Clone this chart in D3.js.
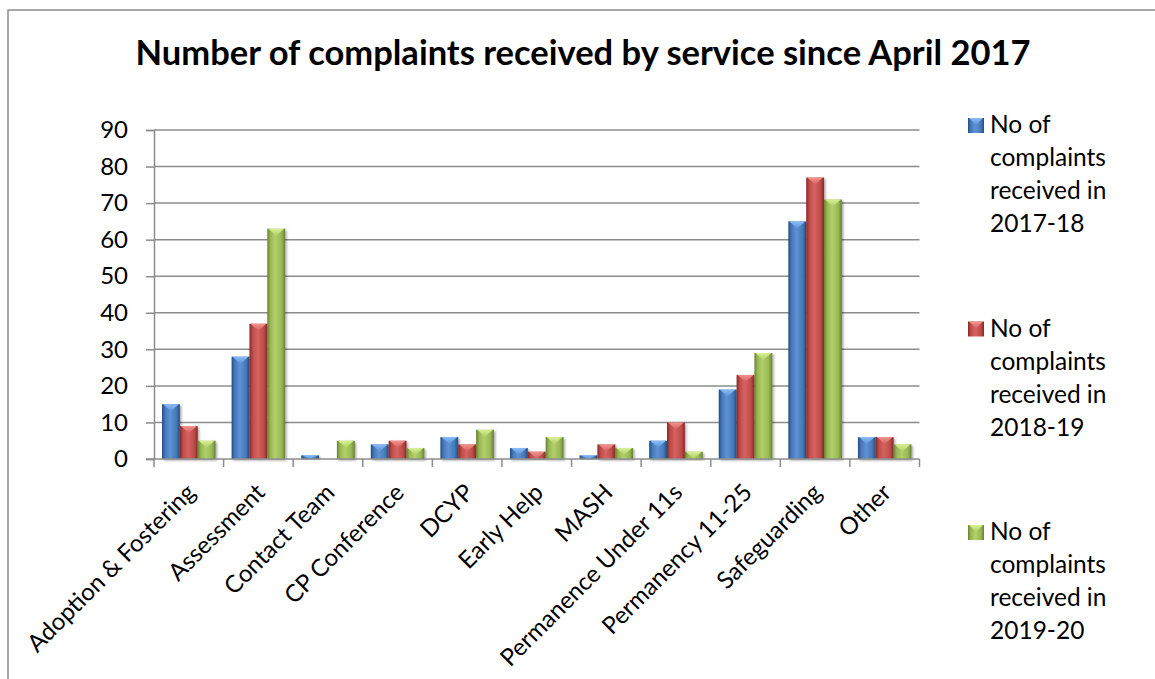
<!DOCTYPE html>
<html>
<head>
<meta charset="utf-8">
<script src="https://cdn.jsdelivr.net/npm/d3@7"></script>
<style>
  html, body { margin: 0; padding: 0; background: #fff; }
  svg { display: block; font-family: Lato, "Open Sans", sans-serif; }
</style>
</head>
<body>
<div id="chart"></div>
<script>
  const categories = ['Adoption & Fostering', 'Assessment', 'Contact Team', 'CP Conference', 'DCYP',
    'Early Help', 'MASH', 'Permanence Under 11s', 'Permanency 11-25', 'Safeguarding', 'Other'];
  const seriesNames = ['No of complaints received in 2017-18', 'No of complaints received in 2018-19',
    'No of complaints received in 2019-20'];
  const values1718 = [15, 28, 1, 4, 6, 3, 1, 5, 19, 65, 6];
  const values1819 = [9, 37, 0, 5, 4, 2, 4, 10, 23, 77, 6];
  const values1920 = [5, 63, 5, 3, 8, 6, 3, 2, 29, 71, 4];
  const yTicks = [0, 10, 20, 30, 40, 50, 60, 70, 80, 90];
  const legendLines = [
    ['No of', 'complaints', 'received in', '2017-18'],
    ['No of', 'complaints', 'received in', '2018-19'],
    ['No of', 'complaints', 'received in', '2019-20'],
  ];

  const W = 1155, H = 679;
  const plot = { left: 154, right: 919.5, top: 130, bottom: 459 };

  // base, dark edge, light centre, bevel top
  const palette = [
    { dark: '#234c82', mid: '#4679b8', light: '#5e92d5', top: '#8fc2ff' },
    { dark: '#872826', mid: '#bd4d4a', light: '#d6625f', top: '#f79a95' },
    { dark: '#67822f', mid: '#98b856', light: '#b1d068', top: '#dcf59a' },
  ];

  const svg = d3.select('#chart').append('svg')
    .attr('width', W).attr('height', H);

  const defs = svg.append('defs');
  palette.forEach((p, i) => {
    const g = defs.append('linearGradient').attr('id', 'bar' + i)
      .attr('x1', 0).attr('x2', 1).attr('y1', 0).attr('y2', 0);
    g.append('stop').attr('offset', '0%').attr('stop-color', p.dark);
    g.append('stop').attr('offset', '18%').attr('stop-color', p.mid);
    g.append('stop').attr('offset', '45%').attr('stop-color', p.light);
    g.append('stop').attr('offset', '80%').attr('stop-color', p.mid);
    g.append('stop').attr('offset', '100%').attr('stop-color', p.dark);
    const t = defs.append('linearGradient').attr('id', 'top' + i)
      .attr('x1', 0).attr('x2', 0).attr('y1', 0).attr('y2', 1);
    t.append('stop').attr('offset', '0%').attr('stop-color', p.top);
    t.append('stop').attr('offset', '100%').attr('stop-color', p.light);
  });
  const shadow = defs.append('filter').attr('id', 'shadow')
    .attr('x', '-30%').attr('y', '-10%').attr('width', '160%').attr('height', '130%');
  shadow.append('feDropShadow').attr('dx', 1.5).attr('dy', 1.5).attr('stdDeviation', 1.2)
    .attr('flood-color', '#000').attr('flood-opacity', 0.35);

  // Outer chart border
  svg.append('rect')
    .attr('x', 8).attr('y', 10).attr('width', 1200).attr('height', 720)
    .attr('fill', 'none').attr('stroke', '#8c8c8c').attr('stroke-width', 1.5);

  // Title
  svg.append('text')
    .attr('x', 583).attr('y', 65)
    .attr('text-anchor', 'middle')
    .style('font-size', '34.5px').style('font-weight', 'bold')
    .attr('fill', '#000')
    .text('Number of complaints received by service since April 2017');

  const x0 = d3.scaleBand().domain(categories).range([plot.left, plot.right]).paddingInner(0).paddingOuter(0);
  const y = d3.scaleLinear().domain([0, 90]).range([plot.bottom, plot.top]);
  const x1 = d3.scaleBand().domain([0, 1, 2]).range([0, x0.bandwidth()]).paddingOuter(0.45).paddingInner(0);

  // Gridlines
  svg.append('g').selectAll('line')
    .data(yTicks.filter(d => d > 0))
    .enter().append('line')
    .attr('x1', plot.left).attr('x2', plot.right)
    .attr('y1', d => y(d)).attr('y2', d => y(d))
    .attr('stroke', '#8c8c8c').attr('stroke-width', 1.5);

  // Y axis
  const yAxis = svg.append('g')
    .attr('transform', `translate(${plot.left},0)`)
    .call(d3.axisLeft(y).tickValues(yTicks).tickSize(8).tickPadding(18));
  yAxis.select('.domain').attr('stroke', '#8c8c8c').attr('stroke-width', 1.5);
  yAxis.selectAll('.tick line').attr('stroke', '#8c8c8c').attr('stroke-width', 1.5);
  yAxis.selectAll('.tick text')
    .style('font-size', '24px').style('font-family', 'Lato, sans-serif').attr('fill', '#000');

  const allSeries = [values1718, values1819, values1920];

  // Bars
  const barsG = svg.append('g');
  categories.forEach((cat, ci) => {
    allSeries.forEach((vals, si) => {
      const v = vals[ci];
      if (v <= 0) return;
      const bx = x0(cat) + x1(si);
      const bw = x1.bandwidth();
      const by = y(v);
      const bh = y(0) - by;
      const g = barsG.append('g').attr('filter', 'url(#shadow)');
      g.append('rect')
        .attr('x', bx).attr('y', by).attr('width', bw).attr('height', bh)
        .attr('fill', `url(#bar${si})`);
      const th = Math.min(7, bh);
      g.append('path')
        .attr('d', `M${bx + 1},${by} L${bx + bw - 1},${by} L${bx + bw / 2},${by + th} Z`)
        .attr('fill', `url(#top${si})`).attr('opacity', 0.9);
    });
  });

  // X axis
  const xAxisG = svg.append('g').attr('transform', `translate(0,${plot.bottom})`);
  xAxisG.append('line')
    .attr('x1', plot.left - 8).attr('x2', plot.right)
    .attr('stroke', '#8c8c8c').attr('stroke-width', 1.5);
  const boundaries = categories.map(c => x0(c)).concat([plot.right]);
  xAxisG.selectAll('line.tick')
    .data(boundaries)
    .enter().append('line').attr('class', 'tick')
    .attr('x1', d => d).attr('x2', d => d).attr('y1', 0).attr('y2', 8)
    .attr('stroke', '#8c8c8c').attr('stroke-width', 1.5);
  xAxisG.selectAll('text')
    .data(categories)
    .enter().append('text')
    .attr('transform', d => `translate(${x0(d) + x0.bandwidth() / 2 + 8},35) rotate(-45)`)
    .attr('text-anchor', 'end')
    .style('font-size', '24px')
    .attr('fill', '#000')
    .text(d => d);

  // Legend
  const legendTop = [133, 336.5, 540];
  const legend = svg.append('g');
  seriesNames.forEach((name, si) => {
    const g = legend.append('g').attr('transform', `translate(968,${legendTop[si]})`);
    g.append('rect')
      .attr('x', 0).attr('y', -15).attr('width', 16).attr('height', 15)
      .attr('fill', `url(#bar${si})`);
    g.append('path')
      .attr('d', 'M1,-15 L15,-15 L8,-8 Z')
      .attr('fill', `url(#top${si})`).attr('opacity', 0.9);
    const t = g.append('text')
      .attr('x', 22).attr('y', 0)
      .style('font-size', '24.5px').attr('fill', '#000');
    legendLines[si].forEach((ln, li) => {
      t.append('tspan').attr('x', 22).attr('y', li * 33).text(ln);
    });
  });
</script>
</body>
</html>
